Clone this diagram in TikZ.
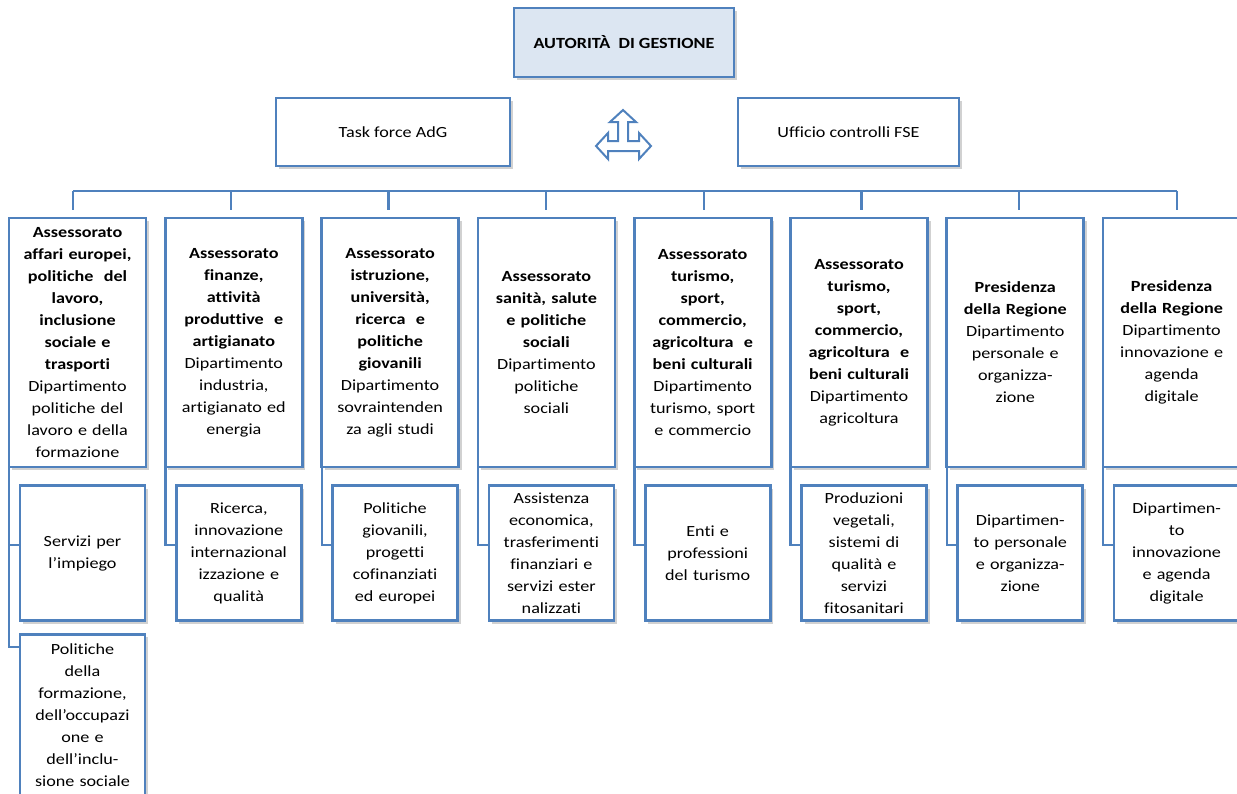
\documentclass[tikz,border=0pt]{standalone}
\usepackage{fontspec}
\setmainfont{Carlito}[FakeStretch=1.17, Ligatures={TeX,NoCommon}]
\usepackage{tikz}
\usetikzlibrary{positioning,shadows}
\definecolor{orgblue}{RGB}{79,129,189}
\definecolor{orgfill}{RGB}{220,230,242}
\tikzset{
  orgbox/.style={draw=orgblue, line width=2.7pt, fill=white, align=center, inner sep=0pt,
    drop shadow={shadow xshift=3pt, shadow yshift=-3pt, opacity=0.3, fill=black!60}},
  mainbox/.style={orgbox, minimum width=137pt, minimum height=249pt, text width=134pt},
  subbox/.style={orgbox, minimum width=125pt, minimum height=135pt, text width=122pt},
  link/.style={draw=orgblue, line width=2.4pt},
}

\begin{document}
\begin{tikzpicture}[x=1pt, y=-1pt, every node/.style={font=\fontsize{15.5}{22}\selectfont}]
		\clip (0,0) rectangle (1237,793);
		\useasboundingbox (0,0) rectangle (1237,793);

		% top of the chart
		\node[orgbox, fill=orgfill, minimum width=220pt, minimum height=69pt] (adg) at (624,42.5) {\bfseries AUTORITÀ\ \ DI GESTIONE};
		\node[orgbox, minimum width=234pt, minimum height=68pt] (task) at (393,132) {Task force AdG};
		\node[orgbox, minimum width=221pt, minimum height=68pt] (uff) at (848.5,132) {Ufficio controlli FSE};
		\draw[orgblue, line width=2pt, fill=white, line join=miter] (623,110) -- (636,122) -- (628,122) -- (628,141) -- (639,141) -- (639,133) -- (651,146) -- (639,159) -- (639,151) -- (608,151) -- (608,159) -- (596,146) -- (608,133) -- (608,141) -- (618,141) -- (618,122) -- (610,122) -- cycle;

		% assessorati
		\node[mainbox] (a1) at (77.5,342.5) {\textbf{Assessorato\\ affari europei,\\ politiche\ \ del\\ lavoro,\\ inclusione\\ sociale e\\ trasporti}\\ Dipartimento\\ politiche del\\ lavoro e della\\ formazione};
		\node[mainbox] (a2) at (233.8,342.5) {\textbf{Assessorato\\ finanze,\\ attività\\ produttive\ \ e\\ artigianato}\\ Dipartimento\\ industria,\\ artigianato ed\\ energia};
		\node[mainbox] (a3) at (390.1,342.5) {\textbf{Assessorato\\ istruzione,\\ università,\\ ricerca\ \ e\\ politiche\\ giovanili}\\ Dipartimento\\ sovraintenden\\ za agli studi};
		\node[mainbox] (a4) at (546.4,342.5) {\textbf{Assessorato\\ sanità,\ salute\\ e politiche\\ sociali}\\ Dipartimento\\ politiche\\ sociali};
		\node[mainbox] (a5) at (702.7,342.5) {\textbf{Assessorato\\ turismo,\\ sport,\\ commercio,\\ agricoltura\ \ e\\ beni\ culturali}\\ Dipartimento\\ turismo, sport\\ e commercio};
		\node[mainbox] (a6) at (859.0,342.5) {\textbf{Assessorato\\ turismo,\\ sport,\\ commercio,\\ agricoltura\ \ e\\ beni\ culturali}\\ Dipartimento\\ agricoltura};
		\node[mainbox] (a7) at (1015.3,342.5) {\textbf{Presidenza\\ della\ Regione}\\ Dipartimento\\ personale e\\ organizza-\\ zione};
		\node[mainbox] (a8) at (1171.6,342.5) {\textbf{Presidenza\\ della\ Regione}\\ Dipartimento\\ innovazione e\\ agenda\\ digitale};

		% dipartimenti / servizi
		\node[subbox, below=16pt of a1, xshift=5pt] (s1) {Servizi per\\ l’impiego};
		\node[subbox, below=11pt of s1, minimum height=162pt] (s1b) {Politiche\\ della\\ formazione,\\ dell’occupazi\\ one e\\ dell’inclu-\\ sione sociale};
		\node[subbox, below=16pt of a2, xshift=5pt] (s2) {Ricerca,\\ innovazione\\ internazional\\ izzazione e\\ qualità};
		\node[subbox, below=16pt of a3, xshift=5pt] (s3) {Politiche\\ giovanili,\\ progetti\\ cofinanziati\\ ed europei};
		\node[subbox, below=16pt of a4, xshift=5pt] (s4) {Assistenza\\ economica,\\ trasferimenti\\ finanziari e\\ servizi ester\\ nalizzati};
		\node[subbox, below=16pt of a5, xshift=5pt] (s5) {Enti e\\ professioni\\ del turismo};
		\node[subbox, below=16pt of a6, xshift=5pt] (s6) {Produzioni\\ vegetali,\\ sistemi di\\ qualità e\\ servizi\\ fitosanitari};
		\node[subbox, below=16pt of a7, xshift=5pt] (s7) {Dipartimen-\\ to personale\\ e organizza-\\ zione};
		\node[subbox, below=16pt of a8, xshift=5pt] (s8) {Dipartimen-\\ to\\ innovazione\\ e agenda\\ digitale};

		% connectors
		\coordinate (bus) at (0,191);
		\draw[link] ([xshift=-4.5pt]a1.north |- bus) -- ([xshift=5.3pt]a8.north |- bus);
		\foreach \i in {1,...,8}{
			\pgfmathsetmacro{\dx}{-4.5+1.4*(\i-1)}
			\draw[link] ([xshift=\dx pt]a\i.north |- bus) -- ([xshift=\dx pt, yshift=7pt]a\i.north);
		}
		\foreach \i in {1,...,8}
			\draw[link] ([xshift=1.5pt]a\i.south west) |- ([yshift=8pt]s\i.west);
		\draw[link] ([xshift=1.5pt]a1.south west) |- ([yshift=-14pt]s1b.north west);
	\end{tikzpicture}
\end{document}
